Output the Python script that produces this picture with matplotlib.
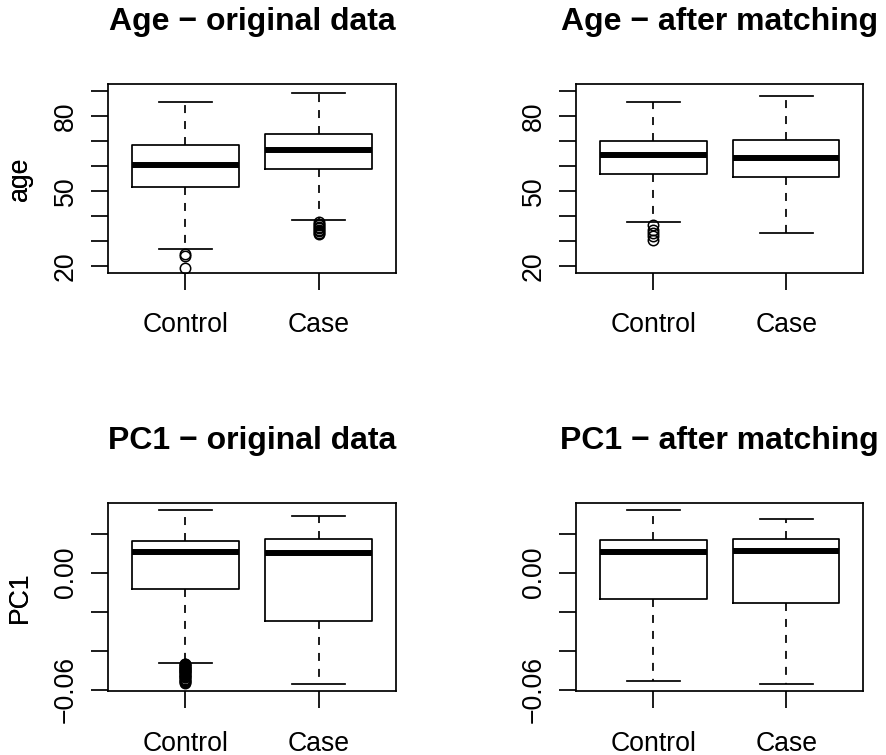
import matplotlib
matplotlib.use('Agg')
import matplotlib.pyplot as plt

plt.rcParams['font.family'] = ['Liberation Sans', 'DejaVu Sans']

groups = ['Control', 'Case']

# five-number summaries: lower whisker, Q1, median, Q3, upper whisker
age_orig_ctrl = [26.8, 51.6, 60.4, 68.3, 85.5]
age_orig_ctrl_out = [24.6, 24.0, 18.9]
age_orig_case = [38.3, 58.8, 66.5, 72.9, 89.1]
age_orig_case_out = [37.4, 36.8, 36.2, 35.6, 35.0, 34.4, 33.8, 33.2, 32.7]

age_match_ctrl = [37.5, 56.8, 64.3, 70.1, 85.5]
age_match_ctrl_out = [36.3, 34.5, 33.2, 31.9, 30.5]
age_match_case = [33.3, 55.6, 63.2, 70.4, 88.0]
age_match_case_out = []

pc1_orig_ctrl = [-0.0461, -0.0083, 0.0106, 0.0165, 0.0323]
pc1_orig_ctrl_out = [-0.0466, -0.0470, -0.0474, -0.0478, -0.0482, -0.0486, -0.0490,
                     -0.0494, -0.0498, -0.0502, -0.0506, -0.0510, -0.0514, -0.0518,
                     -0.0522, -0.0527, -0.0532, -0.0537, -0.0543, -0.0549, -0.0556,
                     -0.0562, -0.0567]
pc1_orig_case = [-0.0572, -0.0250, 0.0102, 0.0174, 0.0289]
pc1_orig_case_out = []

pc1_match_ctrl = [-0.0553, -0.0136, 0.0107, 0.0170, 0.0323]
pc1_match_ctrl_out = []
pc1_match_case = [-0.0572, -0.0157, 0.0112, 0.0174, 0.0276]
pc1_match_case_out = []

age_ticks = [20, 30, 40, 50, 60, 70, 80, 90]
age_ticklabels = ['20', '', '', '50', '', '', '80', '']
pc1_ticks = [-0.06, -0.04, -0.02, 0.00, 0.02]
pc1_ticklabels = ['\u22120.06', '', '', '0.00', '']


def stats(five, out):
    lo, q1, med, q3, hi = five
    return dict(whislo=lo, q1=q1, med=med, q3=q3, whishi=hi, fliers=out)


def padded(lo, hi):
    d = (hi - lo) * 0.04
    return lo - d, hi + d


W, H = 886, 755
fig = plt.figure(figsize=(W / 100, H / 100), dpi=100)


def add_panel(left, top, right, bottom):
    return fig.add_axes([left / W, 1 - bottom / H, (right - left) / W, (bottom - top) / H])


panels = [
    ((108.3, 84.0, 395.7, 272.7), 'Age \u2212 original data', 'age',
     age_orig_ctrl, age_orig_ctrl_out, age_orig_case, age_orig_case_out,
     padded(20, 90), age_ticks, age_ticklabels),
    ((576.3, 84.0, 863.3, 272.7), 'Age \u2212 after matching', 'age',
     age_match_ctrl, age_match_ctrl_out, age_match_case, age_match_case_out,
     padded(20, 90), age_ticks, age_ticklabels),
    ((108.3, 502.7, 395.7, 691.3), 'PC1 \u2212 original data', 'PC1',
     pc1_orig_ctrl, pc1_orig_ctrl_out, pc1_orig_case, pc1_orig_case_out,
     padded(-0.0572, 0.0323), pc1_ticks, pc1_ticklabels),
    ((576.3, 502.7, 863.3, 691.3), 'PC1 \u2212 after matching', 'PC1',
     pc1_match_ctrl, pc1_match_ctrl_out, pc1_match_case, pc1_match_case_out,
     padded(-0.0572, 0.0323), pc1_ticks, pc1_ticklabels),
]

lw = 1.25
for rect, title, ylab, ctrl, ctrl_out, case, case_out, ylim, yt, ytl in panels:
    ax = add_panel(*rect)
    ax.bxp([stats(ctrl, ctrl_out), stats(case, case_out)],
           positions=[1, 2], widths=0.8, capwidths=0.4, manage_ticks=False,
           boxprops=dict(color='black', linewidth=lw),
           whiskerprops=dict(color='black', linewidth=lw, linestyle=(0, (4.6, 4.6))),
           capprops=dict(color='black', linewidth=lw),
           medianprops=dict(color='black', linewidth=4.3, solid_capstyle='butt'),
           flierprops=dict(marker='o', markersize=7.5, markerfacecolor='none',
                           markeredgecolor='black', markeredgewidth=1.1))
    ax.set_xlim(0.42, 2.58)
    ax.set_ylim(*ylim)
    ax.set_xticks([1, 2], labels=groups)
    ax.set_yticks(yt, labels=ytl, rotation=90, va='center', ha='right')
    ax.tick_params(axis='x', direction='out', length=12.2, width=lw, pad=16.3, labelsize=19.2)
    ax.tick_params(axis='y', direction='out', length=12.2, width=lw, pad=8.9, labelsize=19.2)
    for sp in ax.spines.values():
        sp.set_linewidth(lw)
    ax.set_title(title, fontsize=23, fontweight='bold', pad=38.8)
    ax.set_ylabel(ylab, fontsize=19.2, va='baseline')
    ax.yaxis.set_label_coords((27.3 - rect[0]) / (rect[2] - rect[0]), 0.5)

fig.savefig('out.png', dpi=100, facecolor='white')
